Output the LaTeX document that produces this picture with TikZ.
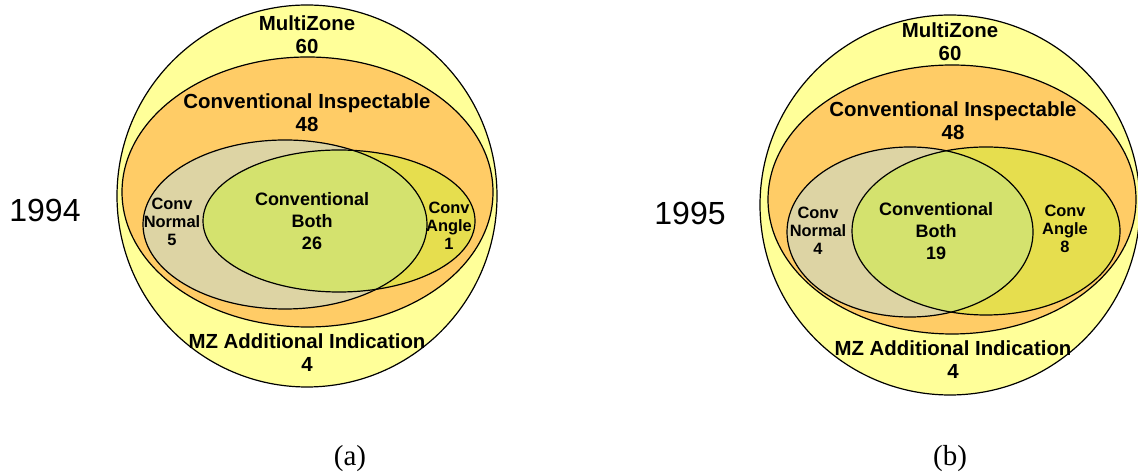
\documentclass[tikz,border=0pt]{standalone}
\usepackage{fontspec}
\setmainfont{Liberation Sans}
\newfontfamily\capfont{Liberation Serif}
\usetikzlibrary{positioning}
\definecolor{zonefill}{HTML}{FFFF99}
\definecolor{inspfill}{HTML}{FFCC66}
\definecolor{normfill}{HTML}{DDD4A4}
\definecolor{anglefill}{HTML}{E6DE4E}
\definecolor{bothfill}{HTML}{D4E26E}

\begin{document}
\begin{tikzpicture}[x=0.5pt, y=-0.5pt,
    ring/.style={draw=black, line width=0.6pt},
    biglbl/.style={align=center, font=\fontsize{10.2}{11.5}\selectfont\bfseries, inner sep=0pt},
    midlbl/.style={align=center, font=\fontsize{9}{11}\selectfont\bfseries, inner sep=0pt},
    smalllbl/.style={align=center, font=\fontsize{8.2}{8.9}\selectfont\bfseries, inner sep=0pt},
    yearlbl/.style={font=\fontsize{16}{18}\selectfont, inner sep=0pt},
    caplbl/.style={font=\capfont\fontsize{14.5}{16}\selectfont, inner sep=0pt},
]
\useasboundingbox (0,0) rectangle (1138,474);

% (a) 1994
\draw[ring, fill=zonefill] (307,196) ellipse [x radius=190, y radius=191];
\draw[ring, fill=inspfill] (307.5,192) ellipse [x radius=185.5, y radius=135];
\fill[normfill] (285,224.5) ellipse [x radius=142, y radius=84.5];
\fill[anglefill] (339,221) ellipse [x radius=136, y radius=71];
\begin{scope}
  \clip (285,224.5) ellipse [x radius=142, y radius=84.5];
  \fill[bothfill] (339,221) ellipse [x radius=136, y radius=71];
\end{scope}
\draw[ring] (285,224.5) ellipse [x radius=142, y radius=84.5];
\draw[ring] (339,221) ellipse [x radius=136, y radius=71];

\node[biglbl] (zoneA) at (307,35) {MultiZone\\60};
\node[biglbl] (inspA) at (307,113) {Conventional Inspectable\\48};
\node[smalllbl] (normA) at (172,222) {Conv\\Normal\\5};
\node[midlbl] (bothA) at (312,221) {Conventional\\Both\\26};
\node[smalllbl] (angleA) at (449,226) {Conv\\Angle\\1};
\node[biglbl] (addA) at (307,353) {MZ Additional Indication\\4};
\node[yearlbl] (yearA) at (45,210) {1994};
\node[caplbl] (capA) at (350,459) {(a)};

% (b) 1995
\draw[ring, fill=zonefill] (950,205) ellipse [x radius=190, y radius=190];
\draw[ring, fill=inspfill] (952,199.5) ellipse [x radius=184, y radius=134.5];
\fill[normfill] (910,232) ellipse [x radius=123, y radius=85];
\fill[anglefill] (986,231) ellipse [x radius=134, y radius=84];
\begin{scope}
  \clip (910,232) ellipse [x radius=123, y radius=85];
  \fill[bothfill] (986,231) ellipse [x radius=134, y radius=84];
\end{scope}
\draw[ring] (910,232) ellipse [x radius=123, y radius=85];
\draw[ring] (986,231) ellipse [x radius=134, y radius=84];

\node[biglbl] (zoneB) at (950,42) {MultiZone\\60};
\node[biglbl] (inspB) at (953,121) {Conventional Inspectable\\48};
\node[smalllbl] (normB) at (818,231) {Conv\\Normal\\4};
\node[midlbl] (bothB) at (936,231) {Conventional\\Both\\19};
\node[smalllbl] (angleB) at (1065,229) {Conv\\Angle\\8};
\node[biglbl] (addB) at (953,360) {MZ Additional Indication\\4};
\node[yearlbl] (yearB) at (690,213) {1995};
\node[caplbl] (capB) at (950,459) {(b)};
\end{tikzpicture}
\end{document}
